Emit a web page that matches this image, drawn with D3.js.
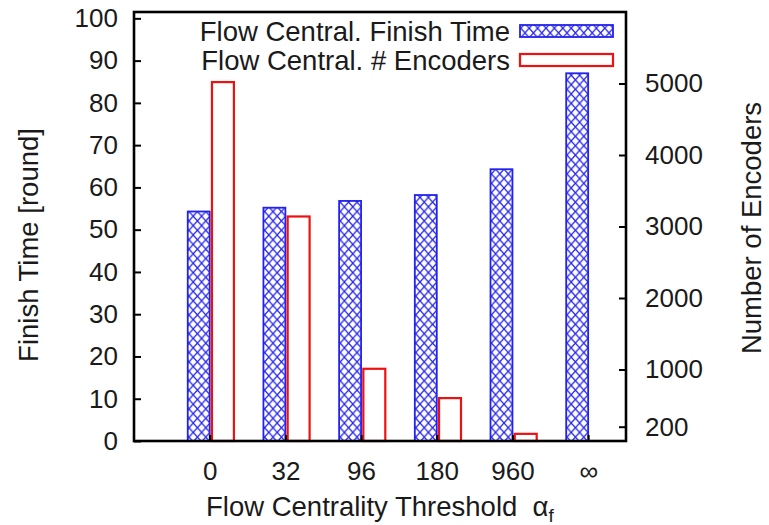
<!DOCTYPE html>
<html>
<head>
<meta charset="utf-8">
<script src="https://cdn.jsdelivr.net/npm/d3@7"></script>
<style>
  body { margin: 0; background: #fff; }
  text { font-family: "Liberation Sans", Arial, Helvetica, sans-serif; fill: #1a1a1a; }
</style>
</head>
<body>
<div id="canvas"></div>
<script>
// Data
const categories = ["0", "32", "96", "180", "960", "\u221e"];
const finishTime = [54.3, 55.2, 56.8, 58.2, 64.3, 87.0];
const encoders = [5020, 3140, 1010, 600, 100, null];
const leftTicks = [0, 10, 20, 30, 40, 50, 60, 70, 80, 90, 100];
const rightTicks = [200, 1000, 2000, 3000, 4000, 5000];
const seriesNames = ["Flow Central. Finish Time", "Flow Central. # Encoders"];

// Layout
const w = 769;
const h = 525;
const plot = { left: 134, right: 626, top: 12, bottom: 441 };
const fontSize = 26;
const titleSize = 27.5;
const blue = "#2222ee";
const red = "#ee1111";

const xScale = d3.scaleLinear().domain([-1, 5.5]).range([plot.left, plot.right]);
const yLeft = d3.scaleLinear().domain([0, 101.5]).range([plot.bottom, plot.top]);
const yRight = d3.scaleLinear().domain([0, 6000]).range([plot.bottom, plot.top]);

const svg = d3.select("#canvas").append("svg")
  .attr("width", w)
  .attr("height", h)
  .style("background-color", "white");

// crosshatch fill for the finish time bars
const defs = svg.append("defs");
const pw = 8.4, ph = 9.4;
const pat = defs.append("pattern")
  .attr("id", "hatch")
  .attr("patternUnits", "userSpaceOnUse")
  .attr("width", pw)
  .attr("height", ph);
pat.append("rect").attr("width", pw).attr("height", ph).attr("fill", "white");
pat.append("path")
  .attr("d", `M0,0L${pw},${ph}M${pw},0L0,${ph}`)
  .attr("stroke", blue)
  .attr("stroke-width", 1.3);

// Bars
const blueOff = [-0.29, 0];
const redOff = [0.03, 0.32];

svg.append("g").selectAll("rect")
  .data(finishTime)
  .join("rect")
  .attr("x", (d, i) => xScale(i + blueOff[0]))
  .attr("width", (d, i) => xScale(i + blueOff[1]) - xScale(i + blueOff[0]))
  .attr("y", d => yLeft(d))
  .attr("height", d => plot.bottom - yLeft(d))
  .attr("fill", "url(#hatch)")
  .attr("stroke", blue)
  .attr("stroke-width", 1.8);

svg.append("g").selectAll("rect")
  .data(encoders.map((v, i) => ({ v, i })).filter(d => d.v !== null))
  .join("rect")
  .attr("x", d => xScale(d.i + redOff[0]))
  .attr("width", d => xScale(d.i + redOff[1]) - xScale(d.i + redOff[0]))
  .attr("y", d => yRight(d.v))
  .attr("height", d => plot.bottom - yRight(d.v))
  .attr("fill", "white")
  .attr("stroke", red)
  .attr("stroke-width", 2.2);

// Axes
function styleAxis(g) {
  g.select(".domain").remove();
  g.selectAll(".tick line").attr("stroke", "black").attr("stroke-width", 2);
  g.selectAll(".tick text")
    .style("font-size", fontSize + "px")
    .style("font-family", "'Liberation Sans', Arial, sans-serif")
    .attr("fill", "#1a1a1a");
}

svg.append("g")
  .attr("transform", `translate(${plot.left},0)`)
  .call(d3.axisLeft(yLeft).tickValues(leftTicks).tickSize(-7).tickPadding(16))
  .call(styleAxis);

svg.append("g")
  .attr("transform", `translate(${plot.right},0)`)
  .call(d3.axisRight(yRight).tickValues(rightTicks).tickFormat(d3.format("d")).tickSize(-7).tickPadding(19))
  .call(styleAxis);

svg.append("g")
  .attr("transform", `translate(0,${plot.bottom})`)
  .call(d3.axisBottom(xScale)
    .tickValues(d3.range(categories.length))
    .tickFormat(i => categories[i])
    .tickSize(-6)
    .tickPadding(21))
  .call(styleAxis);

// Frame
svg.append("rect")
  .attr("x", plot.left)
  .attr("y", plot.top)
  .attr("width", plot.right - plot.left)
  .attr("height", plot.bottom - plot.top)
  .attr("fill", "none")
  .attr("stroke", "black")
  .attr("stroke-width", 2.6);

// Axis titles
svg.append("text")
  .attr("transform", "translate(28,245) rotate(-90)")
  .attr("text-anchor", "middle")
  .attr("dominant-baseline", "central")
  .style("font-size", titleSize + "px")
  .text("Finish Time [round]");

svg.append("text")
  .attr("transform", "translate(751,228) rotate(-90)")
  .attr("text-anchor", "middle")
  .attr("dominant-baseline", "central")
  .style("font-size", titleSize + "px")
  .text("Number of Encoders");

const xt = svg.append("text")
  .attr("x", 206)
  .attr("y", 516)
  .style("font-size", titleSize + "px")
  .style("white-space", "pre");
xt.append("tspan").text("Flow Centrality Threshold  \u03b1");
xt.append("tspan").attr("dy", 6).style("font-size", "19px").text("f");

// Legend
const legend = svg.append("g");
const legendRows = [
  { name: seriesNames[0], fill: "url(#hatch)", stroke: blue, sw: 1.8 },
  { name: seriesNames[1], fill: "white", stroke: red, sw: 2.2 }
];
legendRows.forEach((r, i) => {
  const cy = 31 + i * 29;
  legend.append("text")
    .attr("x", 510)
    .attr("y", cy)
    .attr("text-anchor", "end")
    .attr("dominant-baseline", "central")
    .style("font-size", titleSize + "px")
    .text(r.name);
  legend.append("rect")
    .attr("x", 520)
    .attr("y", cy - 6)
    .attr("width", 93)
    .attr("height", 12)
    .attr("fill", r.fill)
    .attr("stroke", r.stroke)
    .attr("stroke-width", r.sw);
});
</script>
</body>
</html>
